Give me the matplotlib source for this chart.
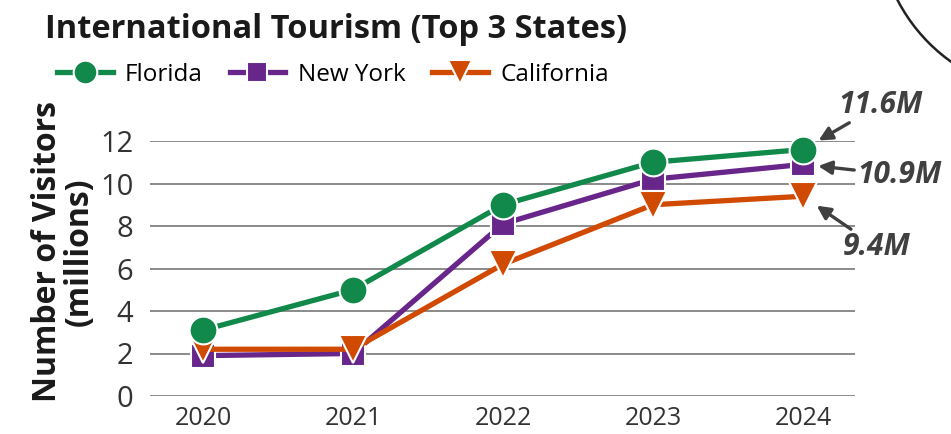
import matplotlib
matplotlib.use("Agg")
from matplotlib import pyplot as plt
from matplotlib.patches import Circle

plt.rcParams['font.family'] = ['Open Sans', 'DejaVu Sans']

# Data
years      = [2020, 2021, 2022, 2023, 2024]
florida    = [3.1, 5.0, 9.0, 11.0, 11.6]
new_york   = [1.9, 2.0, 8.1, 10.2, 10.9]
california = [2.2, 2.2, 6.2, 9.0, 9.4]
end_labels = ["11.6M", "10.9M", "9.4M"]

GREEN  = "#11894a"
PURPLE = "#68258a"
ORANGE = "#d04a02"
TEXT   = "#404040"

W, H = 951, 434
fig = plt.figure(figsize=(W / 100, H / 100), dpi=100)
ax = fig.add_axes([150 / W, (H - 396) / H, 705 / W, 255 / H])

# decorative arc in the top right corner
deco = fig.add_axes([0, 0, 1, 1], zorder=-1)
deco.set_xlim(0, W)
deco.set_ylim(H, 0)
deco.axis("off")
deco.add_patch(Circle((1052, -80), 174, fill=False, lw=1.8, color="#222222"))

common = dict(lw=3.8, markeredgecolor="white", markeredgewidth=1.5, clip_on=False)
l_ny, = ax.plot(years, new_york, color=PURPLE, marker="s", ms=17, label="New York", **common)
l_ca, = ax.plot(years, california, color=ORANGE, marker="v", ms=20, label="California", **common)
l_fl, = ax.plot(years, florida, color=GREEN, marker="o", ms=20, label="Florida", **common)

ax.set_xlim(2019.647, 2024.347)
ax.set_ylim(0, 12)
ax.set_xticks(years)
ax.set_yticks(range(0, 13, 2))
ax.grid(axis="y", color="#777777", lw=1.2)
ax.set_axisbelow(True)
for s in ax.spines.values():
    s.set_visible(False)
ax.tick_params(length=0)
ax.tick_params(axis="y", labelsize=21, labelcolor="#333333", pad=12)
ax.tick_params(axis="x", labelsize=18, labelcolor="#333333", pad=7)

ax.set_ylabel("Number of Visitors\n(millions)", fontsize=23, fontweight="bold",
              color="#1a1a1a", linespacing=0.95)
ax.yaxis.set_label_coords(-0.077, 0.565)

fig.text(45 / W, 1 - 30 / H, "International Tourism (Top 3 States)", fontsize=23.5,
         fontweight="bold", color="#1a1a1a", va="center", ha="left")

fig.legend(handles=[l_fl, l_ny, l_ca], loc="center left",
           bbox_to_anchor=(35 / W, 1 - 75 / H), ncol=3, frameon=False,
           fontsize=17.5, handlelength=2.3, columnspacing=1.1, handletextpad=0.5,
           markerscale=0.85)

# end labels with arrows
label_pos = [(838, 105), (857, 175), (843, 247)]
for val, txt, (px, py), off in zip([florida[-1], new_york[-1], california[-1]],
                                   end_labels, label_pos, [13, 11, 12]):
    ax.annotate(txt, xy=(years[-1], val), xycoords="data",
                xytext=(px, H - py), textcoords="figure pixels",
                ha="left", va="center", fontsize=21.5, fontweight="bold",
                fontstyle="italic", color=TEXT,
                arrowprops=dict(arrowstyle="-|>", color=TEXT, lw=2.4,
                                mutation_scale=20, shrinkA=0, shrinkB=off))

fig.savefig("out.png", dpi=100)
